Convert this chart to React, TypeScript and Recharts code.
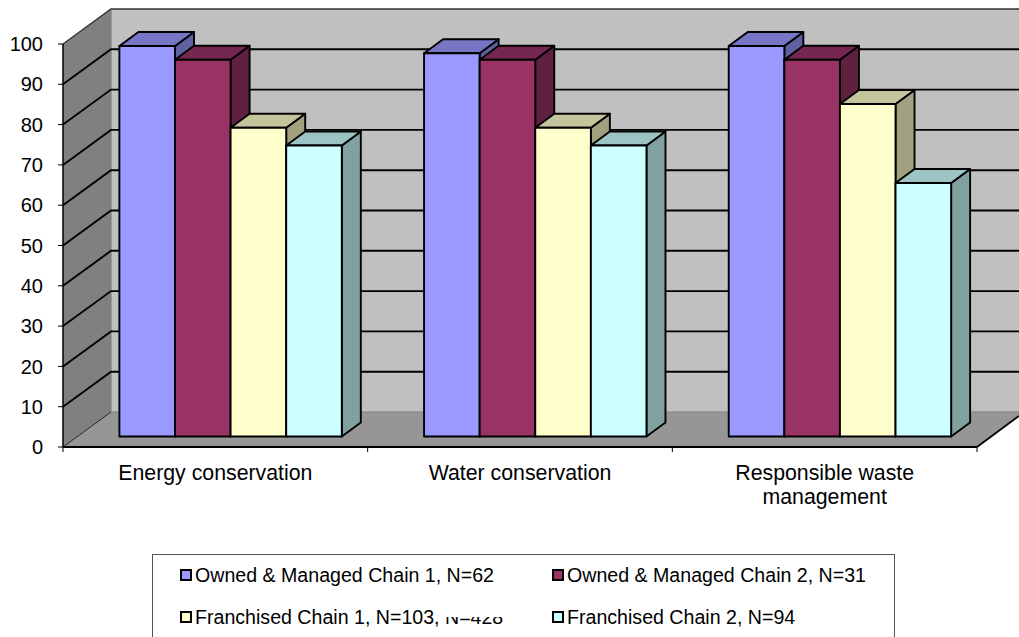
import React from 'react'
import { BarChart, Bar, XAxis, YAxis, CartesianGrid, Legend, Text } from 'recharts'

const categories = ['Energy conservation', 'Water conservation', 'Responsible waste management']
const ownedChain1 = [96.9, 95.1, 96.9]
const ownedChain2 = [93.5, 93.5, 93.5]
const franchisedChain1 = [76.6, 76.6, 82.5]
const franchisedChain2 = [72.2, 72.2, 62.9]
const yTicks = [0, 10, 20, 30, 40, 50, 60, 70, 80, 90, 100]

const seriesNames = [
  'Owned & Managed Chain 1, N=62',
  'Owned & Managed Chain 2, N=31',
  'Franchised Chain 1, N=103, N=428',
  'Franchised Chain 2, N=94',
]
const seriesColors = ['#9999FF', '#993366', '#FFFFCC', '#CCFFFF']

const chartData = categories.map((name, i) => ({
  name,
  a: ownedChain1[i],
  b: ownedChain2[i],
  c: franchisedChain1[i],
  d: franchisedChain2[i],
}))

// projection of the fake 3D box
const FONT = '"Liberation Sans", Arial, sans-serif'
const LEFT = 63
const RIGHT = 977
const TOP = 44
const BOTTOM = 447
const WALL_DX = 48
const WALL_DY = 35
const BAR_DX = 15.4
const BAR_DY = 10.5
const SIDE_DX = 19
const SIDE_DY = 14
const BAND = (RIGHT - LEFT) / categories.length

const shade = (hex: string, k: number) => {
  const n = parseInt(hex.slice(1), 16)
  const c = [(n >> 16) & 255, (n >> 8) & 255, n & 255].map((v) => Math.round(v * k))
  return `rgb(${c[0]},${c[1]},${c[2]})`
}

// sits under the chart, the grid has to paint on top of it
const Walls = () => (
  <svg width={1019} height={637} style={{ position: 'absolute', left: 0, top: 0 }}>
    <polygon
      points={`${LEFT + WALL_DX},${TOP - WALL_DY} 1019,${TOP - WALL_DY} 1019,${BOTTOM - WALL_DY} ${LEFT + WALL_DX},${BOTTOM - WALL_DY}`}
      fill="#C0C0C0"
    />
    <polygon
      points={`${LEFT},${BOTTOM} ${LEFT},${TOP} ${LEFT + WALL_DX},${TOP - WALL_DY} ${LEFT + WALL_DX},${BOTTOM - WALL_DY}`}
      fill="#808080"
    />
    <polygon
      points={`${LEFT},${BOTTOM} ${LEFT + WALL_DX},${BOTTOM - WALL_DY} 1019,${BOTTOM - WALL_DY} 1019,${BOTTOM - 31} ${RIGHT},${BOTTOM}`}
      fill="#969696"
    />
    <path d={`M${LEFT + WALL_DX},${TOP - WALL_DY} V${BOTTOM - WALL_DY} H1019`} fill="none" stroke="#808080" strokeWidth={1.2} />
    <path d={`M${RIGHT},${BOTTOM} L1019,${BOTTOM - 31}`} stroke="#000" strokeWidth={1.8} />
  </svg>
)

const GridLine = (props: any) => {
  const { x1, x2, y1 } = props
  if (Math.abs(y1 - BOTTOM) < 1) {
    return <path d={`M${x1},${y1} L${x1 + WALL_DX},${y1 - WALL_DY}`} stroke="#222" strokeWidth={1} fill="none" />
  }
  const isTop = Math.abs(y1 - TOP) < 1
  return (
    <path
      d={`M${x1},${y1} L${x1 + WALL_DX},${y1 - WALL_DY} H${x2 + WALL_DX}`}
      stroke={isTop ? '#333' : '#000'}
      strokeWidth={isTop ? 1.4 : 1.9}
      fill="none"
    />
  )
}

const Box3D = (props: any) => {
  const { x, y, width, height, fill } = props
  const l = x + BAR_DX
  const r = l + width
  const t = y - BAR_DY
  const b = t + height
  const edge = { stroke: '#000', strokeWidth: 1.9, strokeLinejoin: 'round' as const }
  return (
    <g>
      <polygon points={`${r},${t} ${r + SIDE_DX},${t - SIDE_DY} ${r + SIDE_DX},${b - SIDE_DY} ${r},${b}`} fill={shade(fill, 0.63)} {...edge} />
      <polygon points={`${l},${t} ${l + SIDE_DX},${t - SIDE_DY} ${r + SIDE_DX},${t - SIDE_DY} ${r},${t}`} fill={shade(fill, 0.77)} {...edge} />
      <rect x={l} y={t} width={width} height={height} fill={fill} {...edge} />
    </g>
  )
}

const CategoryTick = (props: any) => {
  const { x, y, payload, index } = props
  const isLast = index === categories.length - 1
  return (
    <g>
      <line x1={x - BAND / 2} x2={x - BAND / 2} y1={BOTTOM} y2={BOTTOM + 5} stroke="#000" />
      {isLast && <line x1={x + BAND / 2} x2={x + BAND / 2} y1={BOTTOM} y2={BOTTOM + 5} stroke="#000" />}
      <Text
        x={x}
        y={y + 10}
        width={230}
        textAnchor="middle"
        verticalAnchor="start"
        lineHeight="24px"
        fontSize={21.3}
        fontFamily={FONT}
        fill="#000"
        style={{ fontSize: 21.3, fontFamily: FONT }}
      >
        {payload.value}
      </Text>
    </g>
  )
}

const LegendBox = (props: any) => {
  const items = props.payload || []
  const clipped = ' N=428'
  return (
    <div style={{ position: 'relative', width: 743, height: 83, border: '1.5px solid #555', borderBottom: 'none', boxSizing: 'border-box', background: '#fff', fontFamily: FONT, fontSize: 19.6, color: '#000' }}>
      {items.map((item: any, i: number) => {
        const name: string = item.value
        const hasClip = name.endsWith(clipped)
        return (
          <div
            key={name}
            style={{ position: 'absolute', left: i % 2 === 0 ? 27 : 399, top: i < 2 ? 8 : 50, whiteSpace: 'nowrap', lineHeight: '24px', display: 'flex', alignItems: 'center' }}
          >
            <span style={{ width: 12, height: 12, boxSizing: 'border-box', border: '2.5px solid #000', background: item.color, marginRight: 3, display: 'inline-block' }} />
            <span>{hasClip ? name.slice(0, -clipped.length) : name}</span>
            {hasClip && <span style={{ whiteSpace: 'pre', clipPath: 'inset(50% 0 0 0)' }}>{clipped}</span>}
          </div>
        )
      })}
    </div>
  )
}

export default function App() {
  return (
    <div style={{ position: 'fixed', left: 0, top: 0, width: 1019, height: 637, overflow: 'hidden', background: '#fff' }}>
      <Walls />
      <BarChart
        width={1019}
        height={637}
        data={chartData}
        margin={{ top: TOP, right: 1019 - RIGHT, bottom: 130, left: 0 }}
        barSize={55.6}
        barGap={0}
      >
        <CartesianGrid horizontal={GridLine} vertical={false} />
        <XAxis
          dataKey="name"
          height={60}
          interval={0}
          axisLine={{ stroke: '#000', strokeWidth: 2 }}
          tickLine={false}
          tick={CategoryTick}
        />
        <YAxis
          width={LEFT}
          domain={[0, 100]}
          ticks={yTicks}
          interval={0}
          axisLine={{ stroke: '#000', strokeWidth: 1.5 }}
          tickLine={{ stroke: '#000' }}
          tickSize={5}
          tickMargin={15}
          tick={{ fontSize: 20, fontFamily: FONT, fill: '#000' }}
        />
        {seriesNames.map((name, i) => (
          <Bar
            key={name}
            dataKey={['a', 'b', 'c', 'd'][i]}
            name={name}
            fill={seriesColors[i]}
            shape={Box3D}
            isAnimationActive={false}
          />
        ))}
        <Legend
          layout="horizontal"
          verticalAlign="middle"
          itemSorter={null}
          content={LegendBox}
          wrapperStyle={{ left: 152, top: 554, width: 743, height: 83 }}
        />
      </BarChart>
    </div>
  )
}
